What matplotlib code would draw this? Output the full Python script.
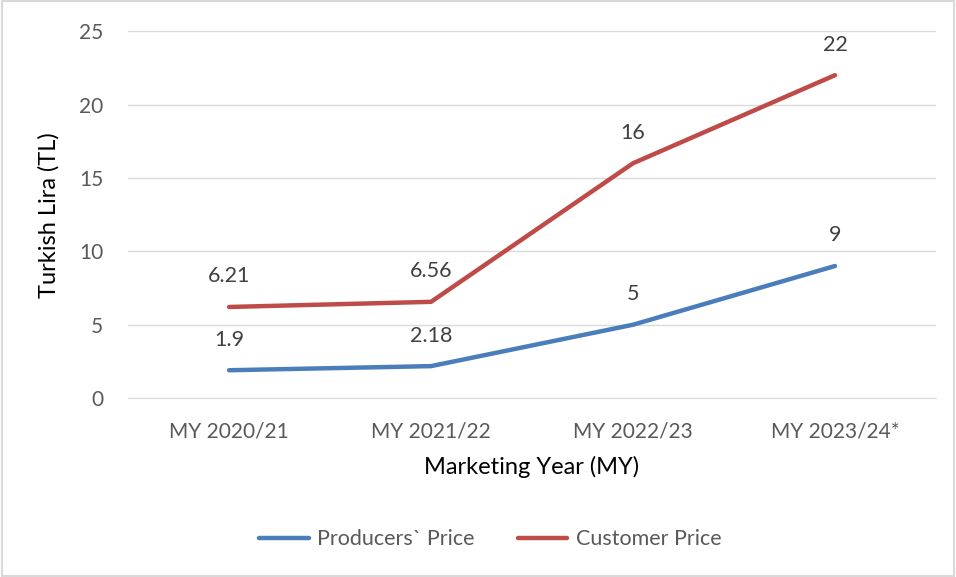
import matplotlib.pyplot as plt

years = ["MY 2020/21", "MY 2021/22", "MY 2022/23", "MY 2023/24*"]
producers = [1.9, 2.18, 5, 9]
customer = [6.21, 6.56, 16, 22]
producer_labels = ["1.9", "2.18", "5", "9"]
customer_labels = ["6.21", "6.56", "16", "22"]

plt.rcParams['font.family'] = ['Lato', 'DejaVu Sans']
txt = '#595959'

fig = plt.figure(figsize=(9.56, 5.77), dpi=100)
ax = fig.add_axes([0.134, 0.310, 0.845, 0.636])

x = range(len(years))
ax.plot(x, producers, color='#4A7EBB', lw=3.2, label='Producers` Price', solid_capstyle='round')
ax.plot(x, customer, color='#BE4B48', lw=3.2, label='Customer Price', solid_capstyle='round')

for i in x:
    ax.annotate(producer_labels[i], (i, producers[i]), xytext=(0, 22), textcoords='offset points',
                ha='center', va='center', fontsize=15.5, color='#404040')
    ax.annotate(customer_labels[i], (i, customer[i]), xytext=(0, 22), textcoords='offset points',
                ha='center', va='center', fontsize=15.5, color='#404040')

ax.set_xlim(-0.5, 3.5)
ax.set_ylim(0, 25)
ax.set_yticks([0, 5, 10, 15, 20, 25])
ax.set_xticks(list(x))
ax.set_xticklabels(years)
ax.grid(axis='y', color='#D9D9D9', lw=1)
ax.set_axisbelow(True)
for s in ['top', 'right', 'left']:
    ax.spines[s].set_visible(False)
ax.spines['bottom'].set_color('#D9D9D9')
ax.tick_params(length=0, labelsize=15, colors=txt)
ax.tick_params(axis='y', pad=18)
ax.tick_params(axis='x', pad=17)

ax.set_xlabel('Marketing Year (MY)', fontsize=17, color='black', labelpad=10)
ax.set_ylabel('Turkish Lira (TL)', fontsize=17, color='black', labelpad=14)

fig.legend(loc='center', bbox_to_anchor=(0.513, 0.065), ncol=2, frameon=False,
           fontsize=15.5, labelcolor=txt, handlelength=2.3, handletextpad=0.4,
           columnspacing=2.0)

fig.patches.append(plt.Rectangle((0.002, 0.002), 0.996, 0.996, transform=fig.transFigure,
                                 fill=False, edgecolor='#D9D9D9', lw=1.5))

fig.savefig('out.png', dpi=100)
